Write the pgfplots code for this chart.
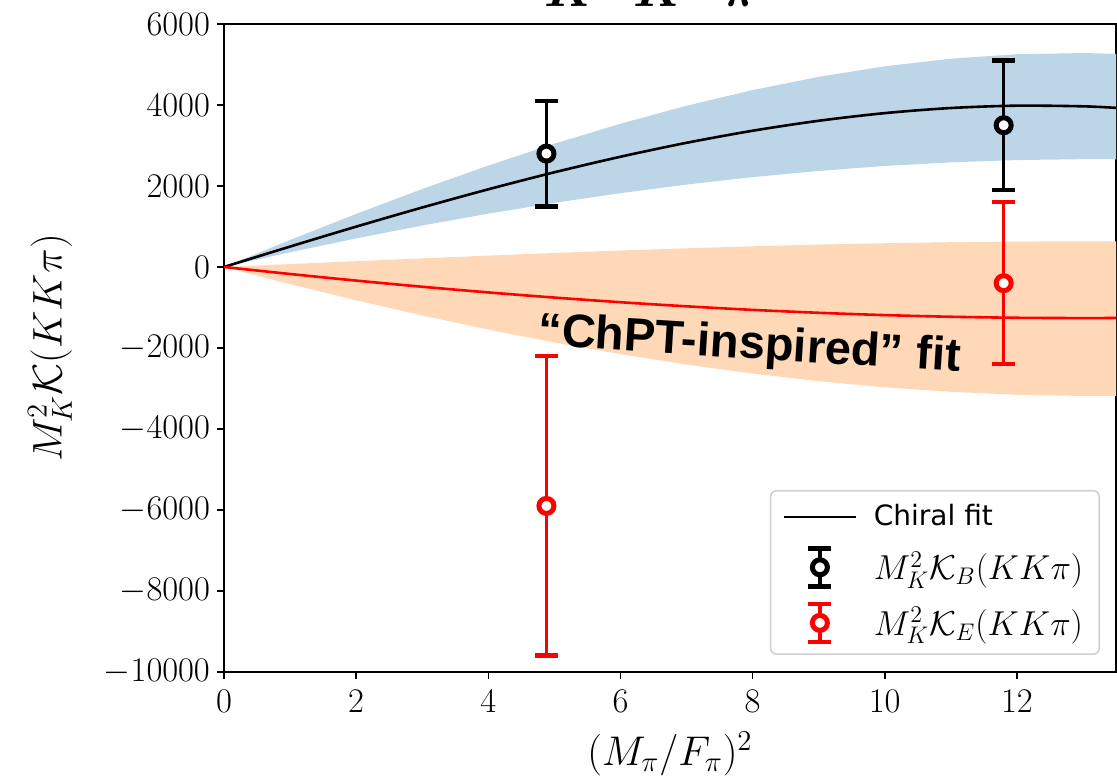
\documentclass[border=0pt]{standalone}
\usepackage{pgfplots}
\pgfplotsset{compat=1.18}
\usepgfplotslibrary{fillbetween}
\usepackage{pgfplotstable}
\usepackage{fontspec}
\newfontfamily\legendsans{DejaVu Sans}
\newfontfamily\notesans{Liberation Sans}

\definecolor{bandblue}{HTML}{BCD6E8}
\definecolor{bandorange}{HTML}{FFD9B7}

% chiral fit (central value and band) and the ChPT-inspired fit (central value and band)
\pgfplotstableread{
x     chiral upper lower
0     0      0      0
1     504    667    364
2     996    1311   705
3     1469   1925   1023
4     1918   2504   1316
5     2338   3044   1583
6     2722   3538   1823
7     3066   3981   2035
8     3364   4369   2219
9     3610   4695   2372
10    3799   4955   2494
11    3925   5143   2584
12    3983   5254   2640
13    3967   5282   2662
13.5  3929   5264   2660
}\chiraltab

\pgfplotstableread{
x     chpt   upper  lower
0     0      0      0
1     -173   72     -423
2     -336   143    -823
3     -488   213    -1197
4     -628   281    -1545
5     -755   346    -1864
6     -870   406    -2152
7     -971   461    -2409
8     -1059  511    -2632
9     -1131  553    -2820
10    -1188  587    -2971
11    -1229  612    -3083
12    -1254  628    -3155
13    -1262  632    -3185
13.5  -1259  630    -3184
}\chpttab

\pgfplotsset{
  errlegend/.style={legend image code/.code={
     \path[draw=none] (0pt,0pt) -- (43pt,0pt);
     \draw[#1, line width=1.6pt] (18pt,-9.5pt) -- (18pt,9.5pt);
     \draw[#1, line width=2.3pt] (12.25pt,-9.5pt) -- (23.75pt,-9.5pt) (12.25pt,9.5pt) -- (23.75pt,9.5pt);
     \draw[#1, line width=2.5pt, fill=white] (18pt,0pt) circle (3.75pt);
  }},
  linelegend/.style={legend image code/.code={
     \path[draw=none] (0pt,0pt) -- (43pt,0pt);
     \draw[#1, line width=1.3pt] (0pt,0pt) -- (36pt,0pt);
  }},
}

\begin{document}
\begin{tikzpicture}
\begin{axis}[
  scale only axis,
  width=446pt, height=324pt,
  xmin=0, xmax=13.5,
  ymin=-10000, ymax=6000,
  xtick={0,2,4,6,8,10,12},
  ytick={-10000,-8000,-6000,-4000,-2000,0,2000,4000,6000},
  scaled y ticks=false,
  /pgf/number format/1000 sep={},
  tick pos=left,
  tick align=outside,
  major tick length=3.5pt,
  tick style={black, line width=0.75pt},
  axis line style={line width=0.75pt},
  ticklabel style={font=\fontsize{16}{18}\selectfont},
  xticklabel style={yshift=-2pt},
  xlabel={$(M_\pi/F_\pi)^2$},
  ylabel={$M_K^2\mathcal{K}(KK\pi)$},
  label style={font=\fontsize{22}{26}\selectfont},
  xlabel style={at={(axis description cs:0.5,0)}, anchor=center, yshift=-41pt},
  ylabel style={at={(axis description cs:-0.195,0.5)}, anchor=center},
  legend style={at={(1,0)}, anchor=south east, xshift=-8pt, yshift=8.5pt,
    draw=black!18, rounded corners=3pt, line width=0.8pt,
    row sep=6.5pt, inner xsep=6pt, inner ysep=5pt,
    font=\fontsize{17}{20}\selectfont},
  legend cell align=left,
]
% bands
\addplot[name path=bu, draw=none, forget plot] table[x=x, y=upper]{\chiraltab};
\addplot[name path=bl, draw=none, forget plot] table[x=x, y=lower]{\chiraltab};
\addplot[bandblue, forget plot] fill between[of=bu and bl];
\addplot[name path=ou, draw=none, forget plot] table[x=x, y=upper]{\chpttab};
\addplot[name path=ol, draw=none, forget plot] table[x=x, y=lower]{\chpttab};
\addplot[bandorange, forget plot] fill between[of=ou and ol];

% central fit curves
\addplot[black, line width=1.3pt, smooth, forget plot] table[x=x, y=chiral]{\chiraltab};
\addplot[red, line width=1.3pt, smooth, forget plot] table[x=x, y=chpt]{\chpttab};

% lattice points
\addplot[black, only marks, mark=*, mark size=3.75pt, forget plot,
  mark options={fill=white, line width=2.5pt},
  error bars/.cd, y dir=both, y explicit,
  error bar style={line width=1.6pt},
  error mark options={rotate=90, line width=2.3pt, mark size=5.75pt}]
  coordinates {(4.88,2800) +- (0,1300) (11.8,3500) +- (0,1600)};
\addplot[red, only marks, mark=*, mark size=3.75pt, forget plot,
  mark options={fill=white, line width=2.5pt},
  error bars/.cd, y dir=both, y explicit,
  error bar style={line width=1.6pt},
  error mark options={rotate=90, line width=2.3pt, mark size=5.75pt}]
  coordinates {(4.88,-5900) +- (0,3700) (11.8,-400) +- (0,2000)};

\addlegendimage{linelegend=black}
\addlegendentry{{\legendsans\fontsize{14}{17}\selectfont Chiral fit}}
\addlegendimage{errlegend=black}
\addlegendentry{$M_K^2\mathcal{K}_B(KK\pi)$}
\addlegendimage{errlegend=red}
\addlegendentry{$M_K^2\mathcal{K}_E(KK\pi)$}

\node[anchor=base, rotate=-3.6, font=\notesans\bfseries\fontsize{23.5}{26}\selectfont]
  at (axis cs:7.94,-2259) {“ChPT-inspired” fit};

\coordinate (bl) at (rel axis cs:0,0);
\coordinate (tr) at (rel axis cs:1,1);
\coordinate (tc) at (rel axis cs:0.5,1);
\end{axis}
\node[anchor=base, font=\fontsize{28}{32}\selectfont\boldmath] at ([yshift=8.5pt]tc) {$K^+K^+\pi^+$};
\pgfresetboundingbox
\path[use as bounding box] ([xshift=-112pt,yshift=-53.5pt]bl) rectangle ([xshift=0.5pt,yshift=12pt]tr);
\end{tikzpicture}
\end{document}
